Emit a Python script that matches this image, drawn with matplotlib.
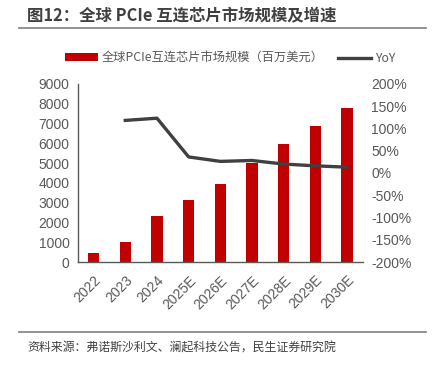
import numpy as np
import matplotlib.pyplot as plt
from matplotlib.ticker import FuncFormatter
from matplotlib.lines import Line2D

plt.rcParams['font.family'] = ['Liberation Sans', 'Noto Sans CJK SC', 'DejaVu Sans']

# 数据
years = ['2022', '2023', '2024', '2025E', '2026E', '2027E', '2028E', '2029E', '2030E']
market = [470, 1020, 2300, 3110, 3930, 4980, 5940, 6860, 7790]
yoy = [np.nan, 1.18, 1.23, 0.36, 0.26, 0.28, 0.20, 0.16, 0.13]

red = '#C00000'
dark = '#404040'
gray = '#595959'
cjk = ['Noto Sans CJK SC', 'DejaVu Sans']

fig = plt.figure(figsize=(4.32, 3.68), dpi=100)

# 标题 + 分隔线
fig.text(0.063, 0.955, '图12：全球 PCIe 互连芯片市场规模及增速', fontsize=11.8, fontweight='bold',
         color='#404040', va='center', ha='left', family=cjk)
fig.add_artist(Line2D([0.044, 0.986], [0.923, 0.923], color='#808080', lw=1.2))

ax = fig.add_axes([0.180, 0.288, 0.660, 0.484])
x = np.arange(len(years))
ax.bar(x, market, width=0.36, color=red, label='全球PCIe互连芯片市场规模（百万美元）', zorder=2)
ax.set_xlim(-0.5, len(years) - 0.5)
ax.set_ylim(0, 9000)
ax.set_yticks(np.arange(0, 9001, 1000))
ax.set_xticks(x)
ax.set_xticklabels(years, rotation=45, ha='right', rotation_mode='anchor')
ax.tick_params(axis='both', length=0, labelsize=10, colors=gray, pad=6)
ax.tick_params(axis='x', pad=8)
for s in ['top', 'right']:
    ax.spines[s].set_visible(False)
for s in ['left', 'bottom']:
    ax.spines[s].set_color(gray)
    ax.spines[s].set_linewidth(1.0)

ax2 = ax.twinx()
ax2.plot(x, yoy, color=dark, lw=2.4, label='YoY', zorder=3)
ax2.set_ylim(-2, 2)
ax2.set_yticks(np.arange(-2, 2.01, 0.5))
ax2.yaxis.set_major_formatter(FuncFormatter(lambda v, p: f'{v*100:.0f}%'))
ax2.tick_params(axis='y', length=0, labelsize=10, colors=gray, pad=6)
for s in ['top', 'right', 'left', 'bottom']:
    ax2.spines[s].set_visible(False)

h1, l1 = ax.get_legend_handles_labels()
h2, l2 = ax2.get_legend_handles_labels()
fig.legend(h1 + h2, l1 + l2, loc='center', bbox_to_anchor=(0.533, 0.842), ncol=2,
           frameon=False, handlelength=2.7, handleheight=0.6, columnspacing=1.2,
           handletextpad=0.3, labelcolor=gray, prop={'family': cjk, 'size': 8.8})

# 底部来源
fig.add_artist(Line2D([0.044, 0.986], [0.099, 0.099], color='#808080', lw=1.2))
fig.text(0.063, 0.054, '资料来源：弗诺斯沙利文、澜起科技公告，民生证券研究院', fontsize=8.6,
         color='#404040', va='center', ha='left', family=cjk)

fig.savefig('out.png', dpi=100)
